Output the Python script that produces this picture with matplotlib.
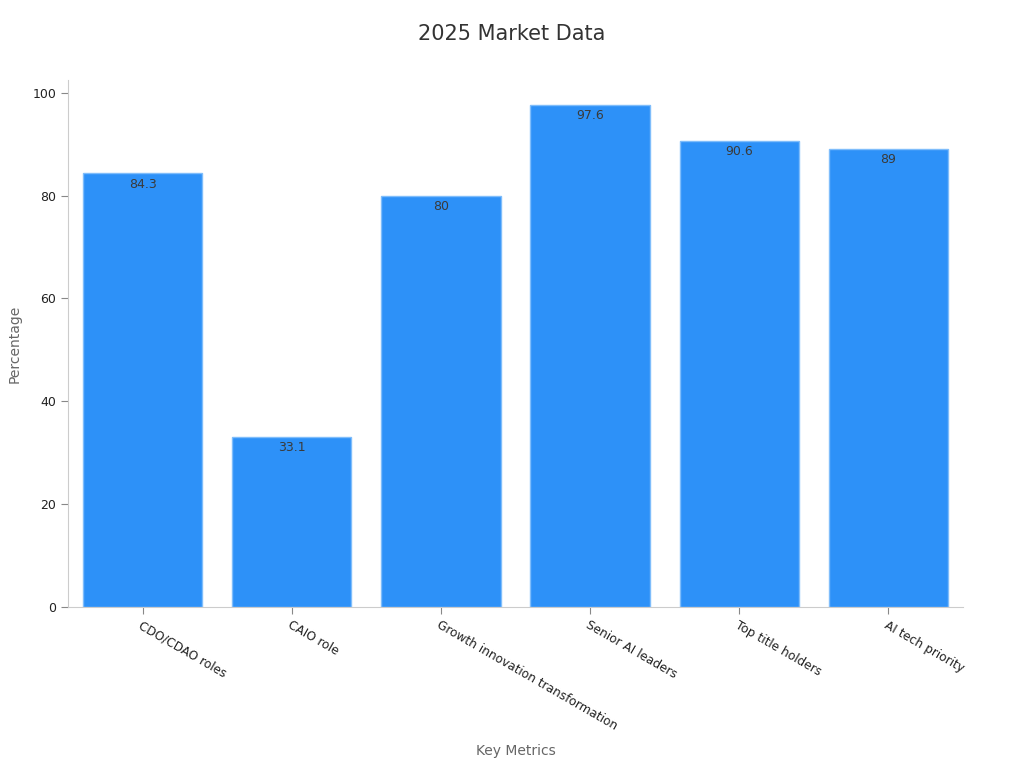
import matplotlib.pyplot as plt
import numpy as np

categories = ["CDO/CDAO roles", "CAIO role", "Growth innovation transformation",
              "Senior AI leaders", "Top title holders", "AI tech priority"]
values = [84.3, 33.1, 80, 97.6, 90.6, 89]
value_labels = ["84.3", "33.1", "80", "97.6", "90.6", "89"]
yticks = [0, 20, 40, 60, 80, 100]

plt.rcParams['font.family'] = ['DejaVu Sans']

fig = plt.figure(figsize=(10.24, 7.68), dpi=100)
ax = fig.add_axes([0.0664, 0.2096, 0.874, 0.6864])

x = np.arange(len(categories))
ax.bar(x, values, width=0.8, color='#2d91f8', edgecolor='#7fbdfb', linewidth=1, zorder=2)

for xi, v, lab in zip(x, values, value_labels):
    ax.text(xi, v - 0.8, lab, ha='center', va='top', fontsize=9, color='#3a3a3a', zorder=3)

ax.set_xlim(-0.5, len(categories) - 0.5)
ax.set_ylim(0, 102.5)
ax.set_yticks(yticks)
ax.set_xticks(x)
ax.set_xticklabels(categories, rotation=-30, ha='left', rotation_mode='anchor',
                   fontsize=8.7, color='#222222')
ax.tick_params(axis='y', labelsize=9, labelcolor='#222222', color='#888888', length=5)
ax.tick_params(axis='x', color='#888888', length=5)

for s in ['top', 'right']:
    ax.spines[s].set_visible(False)
for s in ['left', 'bottom']:
    ax.spines[s].set_color('#cccccc')

ax.set_xlabel("Key Metrics", fontsize=10, color='#666666', labelpad=8)
ax.set_ylabel("Percentage", fontsize=10, color='#666666', labelpad=8)
fig.text(0.5, 0.956, "2025 Market Data", fontsize=15, color='#333333',
         ha='center', va='center')

fig.savefig("out.png", dpi=100)
